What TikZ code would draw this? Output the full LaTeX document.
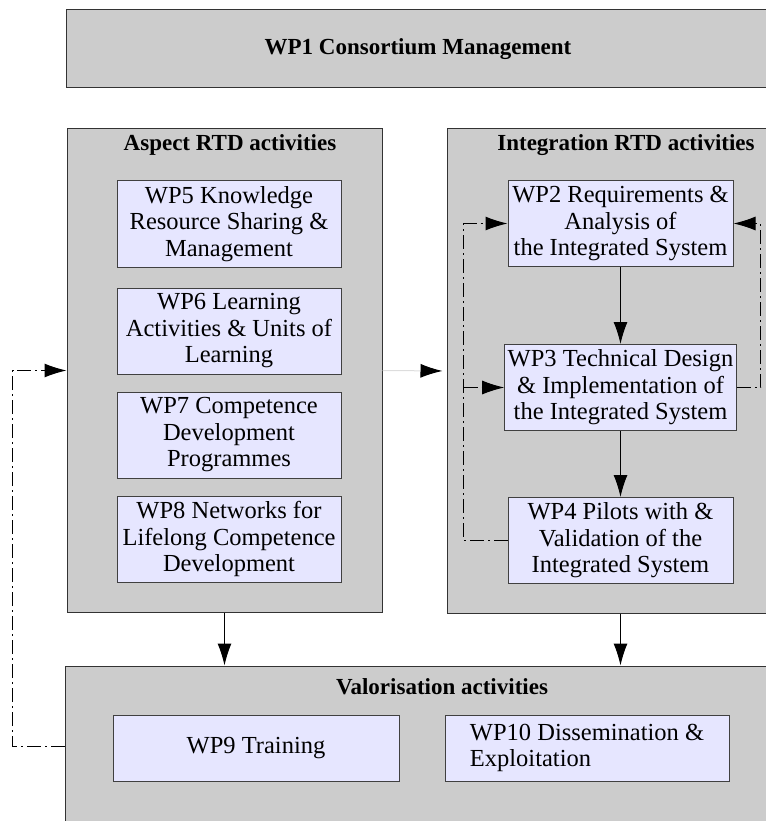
\documentclass[tikz,border=0pt]{standalone}
\usepackage{fontspec}
\setmainfont{Liberation Serif}
\usetikzlibrary{positioning, arrows.meta}
\definecolor{boxgrey}{HTML}{CCCCCC}
\definecolor{wpblue}{HTML}{E6E6FF}
\definecolor{linkgrey}{HTML}{DDDDDD}

\begin{document}
\begin{tikzpicture}[x=1pt,y=-1pt,line width=1pt,
  >={Latex[length=22pt,width=14pt]},
  group/.style={draw=black!80,fill=boxgrey,inner sep=0pt},
  wp/.style={draw=black!75,fill=wpblue,minimum width=224pt,minimum height=86pt,
    inner sep=3pt,align=center,font=\fontsize{24.5}{26.5}\selectfont},
  title/.style={font=\fontsize{23}{26}\selectfont\bfseries},
  fb/.style={dash pattern=on 14pt off 4pt on 2pt off 4pt}]
  \useasboundingbox (0,0) rectangle (765,821);

  % groups
  \node[group,title,minimum width=704pt,minimum height=78pt] (wp1) at (418,49) {WP1 Consortium Management};
  \node[group,minimum width=315pt,minimum height=483pt] (aspect) at (224.5,370.5) {};
  \node[title] (aspecttl) at (230,145) {Aspect RTD activities};
  \node[group,minimum width=354pt,minimum height=484pt] (integ) at (624,371) {};
  \node[title] (integtl) at (626,145) {Integration RTD activities};
  \node[group,minimum width=754pt,minimum height=160pt] (valor) at (442,746) {};
  \node[title] (valortl) at (442,687) {Valorisation activities};

  % aspect work packages
  \node[wp] (wp5) at (229,224) {WP5 Knowledge\\Resource Sharing \&\\Management};
  \node[wp] (wp6) [below=20pt of wp5] {WP6 Learning\\Activities \& Units of\\Learning};
  \node[wp] (wp7) [below=17pt of wp6] {WP7 Competence\\Development\\Programmes};
  \node[wp] (wp8) [below=17pt of wp7] {WP8 Networks for\\Lifelong Competence\\Development};

  % integration work packages
  \node[wp,minimum width=225pt] (wp2) at (620.5,223.5) {WP2 Requirements \&\\Analysis of\\the Integrated System};
  \node[wp,minimum width=225pt] (wp3) [below=77pt of wp2] {WP3 Technical Design\\\& Implementation of\\the Integrated System};
  \node[wp,minimum width=225pt] (wp4) [below=66pt of wp3] {WP4 Pilots with \&\\Validation of the\\Integrated System};

  % valorisation work packages
  \node[wp,minimum width=286pt,minimum height=66pt] (wp9) at (256,748) {WP9 Training};
  \node[wp,minimum width=284pt,minimum height=66pt,align=left] (wp10) at (587,748) {WP10 Dissemination \&\\Exploitation};

  \draw[->] (wp2) -- (wp3);
  \draw[->] (wp3) -- (wp4);
  \draw[->] (aspect.south) -- (aspect.south |- valor.north);
  \draw[->] (wp4 |- integ.south) -- (wp4 |- valor.north);
  \draw[linkgrey,-{Latex[length=22pt,width=14pt,black]},shorten >=4pt] (aspect.east) -- (integ.west);

  % feedback loops
  \draw[fb,->] (valor.west) -- ++(-52,0) |- (aspect.west);
  \draw[fb,->] (wp4.west) -- ++(-44,0) coordinate (fbleft) |- (wp2.west);
  \draw[fb,->] (fbleft |- wp3.west) -- (wp3.west);
  \draw[fb,->] (wp3.east) -- ++(24,0) |- (wp2.east);
\end{tikzpicture}
\end{document}
